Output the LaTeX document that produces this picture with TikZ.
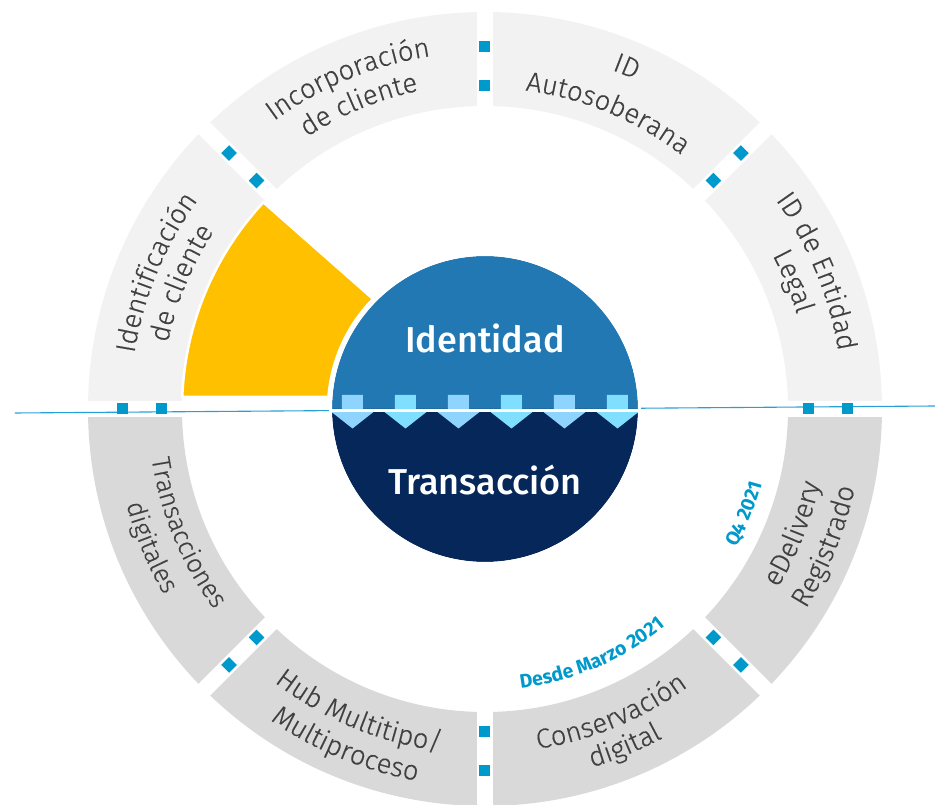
\documentclass[tikz,border=0pt]{standalone}
\usepackage{fontspec}
\setmainfont{Fira Sans}
\newfontfamily\ringfont{Fira Sans Light}[FakeBold=0.35]
\newfontfamily\midfont{Fira Sans Medium}
\usetikzlibrary{decorations.text}
\definecolor{upseg}{RGB}{242,242,242}
\definecolor{loseg}{RGB}{217,217,217}
\definecolor{sq}{RGB}{0,153,204}
\definecolor{ringtxt}{RGB}{64,64,64}
\definecolor{idblue}{RGB}{34,120,178}
\definecolor{navy}{RGB}{5,39,89}
\definecolor{arrA}{RGB}{143,212,255}
\definecolor{arrB}{RGB}{128,222,255}
\definecolor{yel}{RGB}{255,192,0}
\definecolor{annot}{RGB}{0,153,204}
\definecolor{hline}{RGB}{40,160,215}
\newcommand\atxt{\bfseries\fontsize{19.5}{22}\selectfont}
% clockwise text line (upper half): [size] radius, mid angle, text
\newcommand\cwline[4][27.5]{\path[decorate,decoration={text along path,text align=center,text color=ringtxt,text={|\ringfont\fontsize{#1}{#1}\selectfont|#4}}]
  ({#3+40}:#2) arc[start angle={#3+40},end angle={#3-40},radius=#2];}
% counter-clockwise text line (lower half)
\newcommand\ccwline[4][27.5]{\path[decorate,decoration={text along path,text align=center,text color=ringtxt,text={|\ringfont\fontsize{#1}{#1}\selectfont|#4}}]
  ({#3-40}:#2) arc[start angle={#3-40},end angle={#3+40},radius=#2];}
\newcommand\annline[3]{\path[decorate,decoration={text along path,text align=center,text color=annot,text={|\atxt|#3}}]
  ({#2-40}:#1) arc[start angle={#2-40},end angle={#2+40},radius=#1];}
\tikzset{
  gapstrip/.style={fill=white},
  sqmark/.style={fill=sq},
  centertext/.style={text=white,font=\midfont\fontsize{36}{40}\selectfont,anchor=base,inner sep=0pt},
}
\begin{document}
\begin{tikzpicture}[x=1pt,y=1pt]
\useasboundingbox (-485,-396) rectangle (450,409);
% ring halves
\fill[upseg] (0:303) arc[start angle=0,end angle=180,radius=303] -- (180:397) arc[start angle=180,end angle=0,radius=397] -- cycle;
\fill[loseg] (180:303) arc[start angle=180,end angle=360,radius=303] -- (0:397) arc[start angle=360,end angle=180,radius=397] -- cycle;
% gaps
\foreach \a in {0,45,90,135} \fill[gapstrip,rotate=\a] (-420,-8.3) rectangle (420,8.3);
% yellow sector
\filldraw[fill=yel,draw=white,line width=2.5] (137:303) arc[start angle=137,end angle=177.7,radius=303] -- (175.6:157) arc[start angle=175.6,end angle=135.5,radius=157] -- cycle;
% horizontal line
\coordinate (hl) at (-470,-4);
\coordinate (hr) at (450,3);
\draw[hline,line width=1.1] (hl) -- (hr);
% center circle
\fill[idblue] (0:153) arc[start angle=0,end angle=180,radius=153] -- cycle;
\fill[navy] (180:153) arc[start angle=180,end angle=360,radius=153] -- cycle;
\begin{scope}
\clip (0,0) circle (153);
\foreach \x/\c in {-132.5/arrA,-79.5/arrB,-26.5/arrA,26.5/arrB,79.5/arrA,132.5/arrB}
  \fill[\c] (\x-10.5,14) -- (\x+10.5,14) -- (\x+10.5,-3) -- (\x+21,-3) -- (\x,-19.5) -- (\x-21,-3) -- (\x-10.5,-3) -- cycle;
\fill[white] (-160,-3) rectangle (160,-0.2);
\end{scope}
\draw[white,line width=3] (0,0) circle (154.5);
% squares in gaps
\foreach \a in {0,45,...,315}
  \foreach \r in {323,362}
    \fill[sqmark,rotate=\a] (\r-5.5,-5.5) rectangle (\r+5.5,5.5);
% center labels
\node[centertext] (ident) at (0,56) {Identidad};
\node[centertext] (trans) at (0,-86) {Transacción};
% upper ring labels
\cwline{355}{157.5}{Identificación}
\cwline{324}{157.5}{de cliente}
\cwline{357}{112.5}{Incorporación}
\cwline{325}{112.5}{de cliente}
\cwline{362}{67.5}{ID}
\cwline{321}{67.5}{Autosoberana}
\cwline{358}{22.5}{ID de Entidad}
\cwline{326}{22.5}{Legal}
% lower ring labels
\ccwline[26]{337}{202.5}{Transacciones}
\ccwline[26]{371}{202.5}{digitales}
\ccwline{345}{247.5}{Hub Multitipo/}
\ccwline{378}{247.5}{Multiproceso}
\ccwline{344}{292.5}{Conservación}
\ccwline{374}{292.5}{digital}
\ccwline{343}{338}{eDelivery}
\ccwline{378}{338}{Registrado}
% annotations
\annline{282}{293.5}{Desde Marzo 2021}
\annline{287}{338}{Q4 2021}
\end{tikzpicture}
\end{document}
